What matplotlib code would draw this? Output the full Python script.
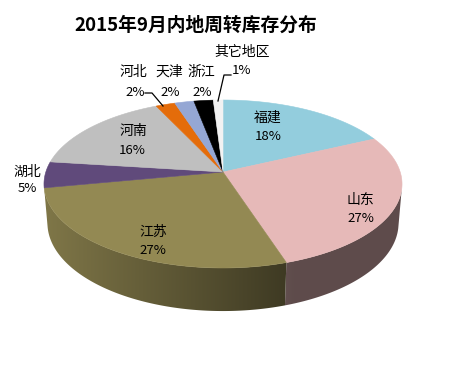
import numpy as np
import matplotlib
matplotlib.use("Agg")
import matplotlib.pyplot as plt
from matplotlib.patches import Polygon
from matplotlib.colors import to_rgb

plt.rcParams['font.family'] = ['Noto Sans CJK SC', 'DejaVu Sans']

# ---- data ----
regions = ['福建', '山东', '江苏', '湖北', '河南', '河北', '天津', '浙江', '其它地区']
shares = [18, 27, 27, 5, 16, 2, 2, 2, 1]
colors = ['#93CDDD', '#E6B9B8', '#938953', '#604A7B', '#BFBFBF',
          '#E46C0A', '#95A7D4', '#000000', '#F2F2F2']
title = '2015年9月内地周转库存分布'

# label anchor positions (pixel coords: name line / percent line)
label_pos = {
    '福建': ((268, 118), (268, 137)),
    '山东': ((360, 200), (361, 218)),
    '江苏': ((153, 232), (153, 250)),
    '湖北': ((27, 172), (27, 189)),
    '河南': ((133, 131), (132, 150)),
    '河北': ((133, 72), (135, 92)),
    '天津': ((169, 72), (170, 92)),
    '浙江': ((201, 72), (202, 92)),
    '其它地区': ((242, 52), (242, 70)),
}

# ---- projection (3D pie) ----
cx, cy = 223.0, 172.0
phi = np.radians(28)
D = 6.18
fx, fy = 1095.0, 1083.0
h = 0.256


def proj(X, Y, Z):
    depth = D + Y * np.cos(phi) - Z * np.sin(phi)
    up = Y * np.sin(phi) + Z * np.cos(phi)
    return cx + fx * X / depth, cy - fy * up / depth


def shade(u):
    return np.maximum(0.41, 0.86 - 0.00183 * (u - 48))


fig = plt.figure(figsize=(4.61, 3.86), dpi=100)
ax = fig.add_axes([0, 0, 1, 1])

total = float(sum(shares))
bounds = np.concatenate([[0], np.cumsum(shares)]) / total * 2 * np.pi

# visible (front-facing) outer wall range
cos_lim = -1.0 / (D * np.cos(phi))
vis0 = np.arccos(cos_lim)
vis1 = 2 * np.pi - vis0

for i, c in enumerate(colors):
    a0, a1 = max(bounds[i], vis0), min(bounds[i + 1], vis1)
    if a1 <= a0:
        continue
    th = np.linspace(a0, a1, 200)
    top = [proj(np.sin(t), np.cos(t), 0) for t in th]
    bot = [proj(np.sin(t), np.cos(t), -h) for t in th[::-1]]
    pts = np.array(top + bot)
    base = np.array(to_rgb(c))
    xmin, xmax = pts[:, 0].min() - 1, pts[:, 0].max() + 1
    ymin, ymax = pts[:, 1].min() - 1, pts[:, 1].max() + 1
    us = np.linspace(xmin, xmax, 300)
    grad = np.clip(base[None, :] * shade(us)[:, None], 0, 1)[None, :, :]
    midcol = np.clip(base * shade((xmin + xmax) / 2), 0, 1)
    poly = Polygon(pts, closed=True, facecolor='none', edgecolor='none', lw=0)
    ax.add_patch(poly)
    im = ax.imshow(np.repeat(grad, 2, axis=0), extent=(xmin, xmax, ymax, ymin),
                   origin='upper', aspect='auto', interpolation='bilinear', zorder=1)
    im.set_clip_path(poly)

# top faces
for i, c in enumerate(colors):
    a0, a1 = bounds[i], bounds[i + 1]
    th = np.linspace(a0, a1, max(3, int(np.degrees(a1 - a0) * 2)))
    pts = [proj(0, 0, 0)] + [proj(np.sin(t), np.cos(t), 0) for t in th]
    ax.add_patch(Polygon(pts, closed=True, facecolor=c, edgecolor=c, lw=0.4, zorder=2))

# labels
for name, s in zip(regions, shares):
    (nx, ny), (px, py) = label_pos[name]
    ax.text(nx, ny, name, ha='center', va='center', fontsize=10, color='black', zorder=4)
    ax.text(px, py, f'{s}%', ha='center', va='center', fontsize=9.5, color='black', zorder=4)

# leader lines
ax.plot([145, 152, 163], [93, 93, 106], color='black', lw=0.9, zorder=3)
ax.plot([218, 224, 231], [101, 75, 75], color='black', lw=0.9, zorder=3)

ax.text(196, 25, title, ha='center', va='center', fontsize=13.5,
        fontweight='bold', color='black')

ax.set_xlim(0, 461)
ax.set_ylim(386, 0)
ax.axis('off')

fig.savefig('out.png', dpi=100)
